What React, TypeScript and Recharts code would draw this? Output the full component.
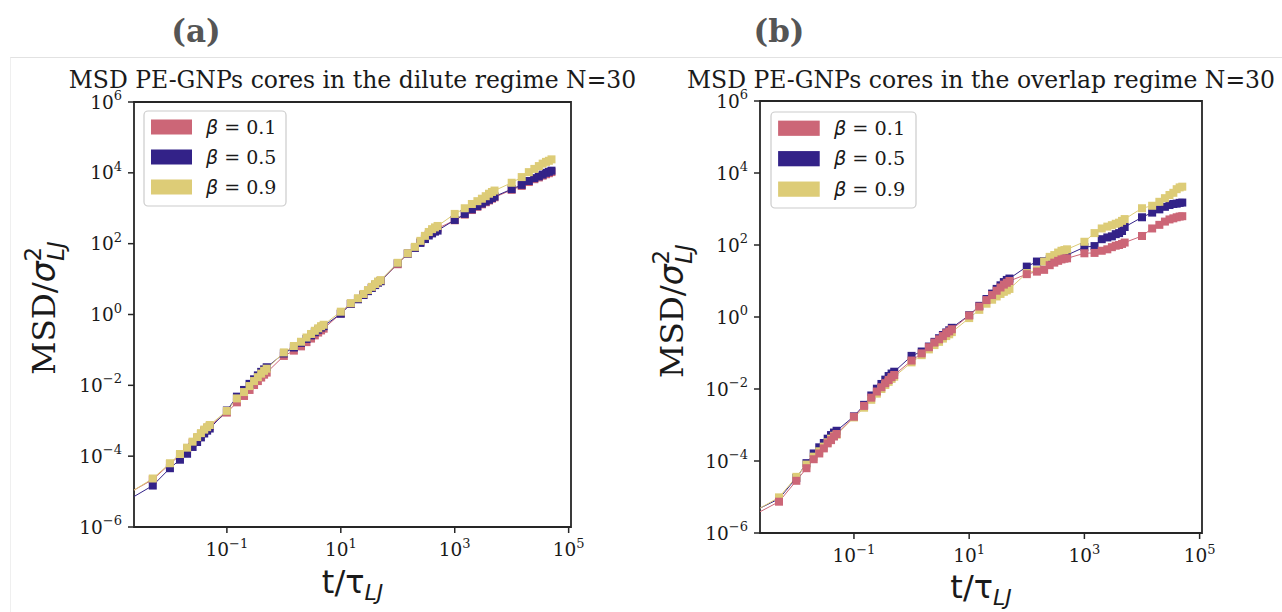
import React from 'react';
import { LineChart, Line, XAxis, YAxis, ReferenceArea } from 'recharts';

// ---- data -------------------------------------------------------------
// lag times t/tau_LJ (first entry: where the curve meets the left edge of the axes)
const TIMES = [
  0.00234, 0.005,
  0.01, 0.015, 0.02, 0.025, 0.03, 0.035, 0.04, 0.045, 0.05,
  0.1, 0.15, 0.2, 0.25, 0.3, 0.35, 0.4, 0.45, 0.5,
  1, 1.5, 2, 2.5, 3, 3.5, 4, 4.5, 5,
  10, 15, 20, 25, 30, 35, 40, 45, 50,
  100, 150, 200, 250, 300, 350, 400, 450, 500,
  1000, 1500, 2000, 2500, 3000, 3500, 4000, 4500, 5000,
  10000, 15000, 20000, 25000, 30000, 35000, 40000, 45000, 50000,
];

// (a) dilute regime
const DILUTE_B01 = [
  1.1e-5, 2.19e-5,
  6.03e-5, 1.07e-4, 1.62e-4, 2.4e-4, 3.24e-4, 4.17e-4, 5.25e-4, 6.17e-4, 7.08e-4,
  1.7e-3, 3.31e-3, 5.01e-3, 7.41e-3, 1.02e-2, 1.32e-2, 1.66e-2, 2.0e-2, 2.29e-2,
  6.76e-2, 9.55e-2, 0.126, 0.166, 0.209, 0.257, 0.309, 0.355, 0.398,
  1.07, 2.0, 2.75, 3.63, 4.68, 5.75, 6.92, 8.13, 8.91,
  26.3, 52.5, 77.6, 112, 148, 186, 219, 245, 269,
  457, 661, 891, 1100, 1290, 1480, 1660, 1860, 2040,
  3310, 4270, 5500, 6610, 7410, 8320, 9120, 9770, 10500,
];
const DILUTE_B05 = [
  7.24e-6, 1.48e-5,
  4.57e-5, 7.94e-5, 1.17e-4, 1.82e-4, 2.51e-4, 3.39e-4, 4.37e-4, 5.25e-4, 6.03e-4,
  1.95e-3, 4.79e-3, 7.41e-3, 1.1e-2, 1.48e-2, 1.91e-2, 2.4e-2, 2.82e-2, 3.24e-2,
  7.94e-2, 0.117, 0.158, 0.204, 0.257, 0.316, 0.372, 0.427, 0.468,
  1.05, 2.0, 2.69, 3.55, 4.57, 5.62, 6.76, 7.94, 8.71,
  28.2, 52.5, 75.9, 105, 135, 170, 195, 219, 234,
  468, 692, 933, 1150, 1350, 1550, 1740, 1950, 2140,
  3470, 4570, 5890, 7080, 7940, 8910, 10000, 10700, 11500,
];
const DILUTE_B09 = [
  1.1e-5, 2.34e-5,
  6.3e-5, 1.15e-4, 1.74e-4, 2.57e-4, 3.47e-4, 4.47e-4, 5.62e-4, 6.61e-4, 7.59e-4,
  1.9e-3, 4.27e-3, 6.46e-3, 9.55e-3, 1.32e-2, 1.7e-2, 2.14e-2, 2.57e-2, 2.95e-2,
  8.51e-2, 0.129, 0.17, 0.224, 0.282, 0.347, 0.407, 0.468, 0.513,
  1.2, 2.09, 2.88, 3.8, 4.9, 6.03, 7.24, 8.51, 9.33,
  28.8, 53.7, 81.3, 120, 166, 214, 257, 288, 316,
  692, 1000, 1320, 1585, 1860, 2190, 2570, 2880, 3160,
  5250, 7590, 10470, 12900, 15500, 18200, 20400, 21900, 24000,
];

// (b) overlap regime
const OVERLAP_B01 = [
  3.89e-6, 7.41e-6,
  2.82e-5, 6.31e-5, 1.12e-4, 1.62e-4, 2.24e-4, 3.09e-4, 3.8e-4, 4.79e-4, 5.62e-4,
  1.7e-3, 3.39e-3, 5.75e-3, 8.51e-3, 1.12e-2, 1.45e-2, 1.78e-2, 2.14e-2, 2.45e-2,
  6.17e-2, 9.77e-2, 0.145, 0.195, 0.24, 0.295, 0.355, 0.398, 0.457,
  1.1, 1.95, 2.95, 4.07, 5.37, 6.61, 7.94, 8.91, 10,
  15.5, 18.2, 20.4, 27.5, 32.4, 36.3, 39.8, 41.7, 42.7,
  58.9, 60.3, 69.2, 75.9, 87.1, 95.5, 100, 107, 117,
  178, 288, 363, 447, 513, 550, 589, 617, 631,
];
const OVERLAP_B05 = [
  4.9e-6, 8.91e-6,
  3.39e-5, 8.71e-5, 1.62e-4, 2.4e-4, 3.16e-4, 4.17e-4, 5.25e-4, 6.17e-4, 6.92e-4,
  1.74e-3, 3.63e-3, 6.61e-3, 1.02e-2, 1.38e-2, 1.82e-2, 2.29e-2, 2.69e-2, 3.02e-2,
  8.32e-2, 0.11, 0.151, 0.204, 0.257, 0.316, 0.372, 0.427, 0.501,
  1.12, 2.04, 3.16, 4.47, 6.03, 7.59, 9.33, 10.7, 11.7,
  25.1, 34.7, 35.5, 39.8, 43.7, 46.8, 50.1, 51.3, 52.5,
  87.1, 93.3, 145, 162, 174, 200, 214, 245, 316,
  589, 794, 977, 1150, 1290, 1380, 1410, 1480, 1510,
];
const OVERLAP_B09 = [
  4.9e-6, 9.77e-6,
  3.63e-5, 7.94e-5, 1.32e-4, 1.86e-4, 2.51e-4, 3.31e-4, 4.17e-4, 5.01e-4, 5.37e-4,
  1.62e-3, 3.02e-3, 5.01e-3, 7.41e-3, 1.0e-2, 1.29e-2, 1.58e-2, 1.91e-2, 2.19e-2,
  5.5e-2, 8.71e-2, 0.126, 0.166, 0.204, 0.251, 0.295, 0.331, 0.38,
  0.933, 1.58, 2.34, 3.02, 3.72, 4.37, 5.01, 5.5, 6.03,
  16.6, 20, 34.7, 46.8, 52.5, 61.7, 69.2, 72.4, 75.9,
  123, 214, 288, 324, 355, 389, 417, 468, 525,
  1050, 1230, 1585, 2000, 2450, 2820, 3550, 3980, 4170,
];

const SERIES_LABELS = ['0.1', '0.5', '0.9'];
const X_TICKS = [0.1, 10, 1000, 100000];
const Y_TICKS = [1e-6, 1e-4, 1e-2, 1, 1e2, 1e4, 1e6];
const X_DOMAIN = [0.00234, 110000];
const Y_DOMAIN = [1e-6, 1e6];

// ---- style ------------------------------------------------------------
const C_RED = '#CC6677';
const C_BLUE = '#332288';
const C_YEL = '#DDCC77';
const SERIF = '"DejaVu Serif", serif';
const SANS = '"DejaVu Sans", sans-serif';
const INK = '#1a1a1a';
const SPINE = '#262626';

const buildRows = (b01: number[], b05: number[], b09: number[]) =>
  TIMES.map((t, i) => ({ t, b01: b01[i], b05: b05[i], b09: b09[i] }));

const dilute = buildRows(DILUTE_B01, DILUTE_B05, DILUTE_B09);
const overlap = buildRows(OVERLAP_B01, OVERLAP_B05, OVERLAP_B09);

const expText = (v: number) => {
  const e = Math.round(Math.log10(v));
  return e < 0 ? '\u2212' + String(-e) : String(e);
};

const XTick = (props: any) => {
  const { x, y, payload } = props;
  return (
    <text x={x} y={y + 21} textAnchor="middle" fontFamily={SERIF} fontSize={18.5} fill={INK}>
      <tspan>10</tspan>
      <tspan dy={-8.5} fontSize={13}>{expText(payload.value)}</tspan>
    </text>
  );
};

const YTick = (props: any) => {
  const { x, y, payload } = props;
  return (
    <text x={x} y={y + 6.5} textAnchor="end" fontFamily={SERIF} fontSize={18.5} fill={INK}>
      <tspan>10</tspan>
      <tspan dy={-8.5} fontSize={13}>{expText(payload.value)}</tspan>
    </text>
  );
};

const makeDot = (color: string) => (props: any) => {
  const { cx, cy, index } = props;
  if (index === 0 || cx == null || cy == null || isNaN(cx) || isNaN(cy)) {
    return <g key={`e${index}`} />;
  }
  return <rect key={`d${index}`} x={cx - 4} y={cy - 4} width={8} height={8} fill={color} />;
};

const seriesLine = (key: string, color: string) => (
  <Line
    key={key}
    dataKey={key}
    stroke={color}
    strokeWidth={1}
    dot={makeDot(color)}
    activeDot={false}
    isAnimationActive={false}
    legendType="none"
  />
);

type PanelProps = {
  data: any[];
  width: number;
  margin: { top: number; right: number; bottom: number; left: number };
  order: string[];
};

const COLORS: Record<string, string> = { b01: C_RED, b05: C_BLUE, b09: C_YEL };

const Panel = ({ data, width, margin, order }: PanelProps) => (
  <LineChart width={width} height={612} data={data} margin={margin}>
    <XAxis
      dataKey="t"
      type="number"
      scale="log"
      domain={X_DOMAIN}
      allowDataOverflow
      ticks={X_TICKS}
      interval={0}
      tick={<XTick />}
      tickSize={6}
      tickMargin={2}
      tickLine={{ stroke: SPINE, strokeWidth: 1.5 }}
      axisLine={false}
      height={40}
    />
    <YAxis
      type="number"
      scale="log"
      domain={Y_DOMAIN}
      allowDataOverflow
      ticks={Y_TICKS}
      interval={0}
      tick={<YTick />}
      tickSize={6}
      tickMargin={6}
      tickLine={{ stroke: SPINE, strokeWidth: 1.5 }}
      axisLine={false}
      width={60}
    />
    {order.map((k) => seriesLine(k, COLORS[k]))}
    <ReferenceArea
      x1={X_DOMAIN[0]}
      x2={X_DOMAIN[1]}
      y1={Y_DOMAIN[0]}
      y2={Y_DOMAIN[1]}
      fill="none"
      fillOpacity={0}
      stroke={SPINE}
      strokeWidth={1.8}
      ifOverflow="visible"
    />
  </LineChart>
);

const Legend = ({ x, y, w, h, scale }: { x: number; y: number; w: number; h: number; scale: number }) => {
  const colors = [C_RED, C_BLUE, C_YEL];
  return (
    <g>
      <rect x={x} y={y} width={w} height={h} rx={4} ry={4} fill="#ffffff" fillOpacity={0.85} stroke="#cccccc" strokeWidth={1.2} />
      {SERIES_LABELS.map((lab, i) => {
        const cy = y + 16 * scale + i * 30 * scale;
        return (
          <g key={lab}>
            <rect x={x + 7 * scale} y={cy - 7.5 * scale} width={41 * scale} height={15 * scale} fill={colors[i]} />
            <text x={x + 62 * scale} y={cy + 6.5} fontSize={19 * scale} fill={INK} fontFamily={SERIF}>
              <tspan fontFamily={SANS} fontStyle="italic">β</tspan>
              <tspan>{` = ${lab}`}</tspan>
            </text>
          </g>
        );
      })}
    </g>
  );
};

const YLabel = ({ x, y }: { x: number; y: number }) => (
  <text transform={`rotate(-90 ${x} ${y})`} x={x} y={y} textAnchor="middle" fill={INK}>
    <tspan fontFamily={SERIF} fontSize={32.5}>MSD/</tspan>
    <tspan fontFamily={SANS} fontStyle="italic" fontSize={33}>σ</tspan>
    <tspan fontFamily={SANS} fontSize={23} dy={-14}>2</tspan>
    <tspan fontFamily={SANS} fontStyle="italic" fontSize={23} dx={-14} dy={23}>LJ</tspan>
  </text>
);

const XLabel = ({ x, y }: { x: number; y: number }) => (
  <text x={x} y={y} textAnchor="middle" fill={INK} fontFamily={SANS}>
    <tspan fontSize={32}>t/τ</tspan>
    <tspan fontSize={22} fontStyle="italic" dy={7}>LJ</tspan>
  </text>
);

export default function App() {
  return (
    <div style={{ position: 'absolute', left: 0, top: 0, width: 1282, height: 612, background: '#ffffff', overflow: 'hidden' }}>
      <div style={{ position: 'absolute', left: 0, top: 0 }}>
        <Panel data={dilute} width={640} margin={{ top: 102, right: 69, bottom: 45, left: 74 }} order={['b01', 'b05', 'b09']} />
      </div>
      <div style={{ position: 'absolute', left: 640, top: 0 }}>
        <Panel data={overlap} width={642} margin={{ top: 101, right: 80, bottom: 39, left: 60 }} order={['b05', 'b09', 'b01']} />
      </div>
      <svg width={1282} height={612} style={{ position: 'absolute', left: 0, top: 0, pointerEvents: 'none' }}>
        <line x1={10} y1={57.5} x2={1282} y2={57.5} stroke="#e2e2e2" strokeWidth={1} />
        <line x1={10.5} y1={57.5} x2={10.5} y2={612} stroke="#efefef" strokeWidth={1} />
        <text x={196} y={42} textAnchor="middle" fontFamily={SERIF} fontWeight="bold" fontSize={31} fill="#555555">(a)</text>
        <text x={779} y={42} textAnchor="middle" fontFamily={SERIF} fontWeight="bold" fontSize={31} fill="#555555">(b)</text>
        <text x={352.5} y={88} textAnchor="middle" fontFamily={SERIF} fontSize={23.5} fill={INK}>MSD PE-GNPs cores in the dilute regime N=30</text>
        <text x={981} y={88} textAnchor="middle" fontFamily={SERIF} fontSize={23.5} fill={INK}>MSD PE-GNPs cores in the overlap regime N=30</text>
        <YLabel x={55} y={308} />
        <YLabel x={683} y={311} />
        <XLabel x={352.5} y={593} />
        <XLabel x={981} y={598} />
        <Legend x={144} y={111} w={142} h={95} scale={1} />
        <Legend x={771} y={112} w={145} h={96} scale={1.015} />
      </svg>
    </div>
  );
}
